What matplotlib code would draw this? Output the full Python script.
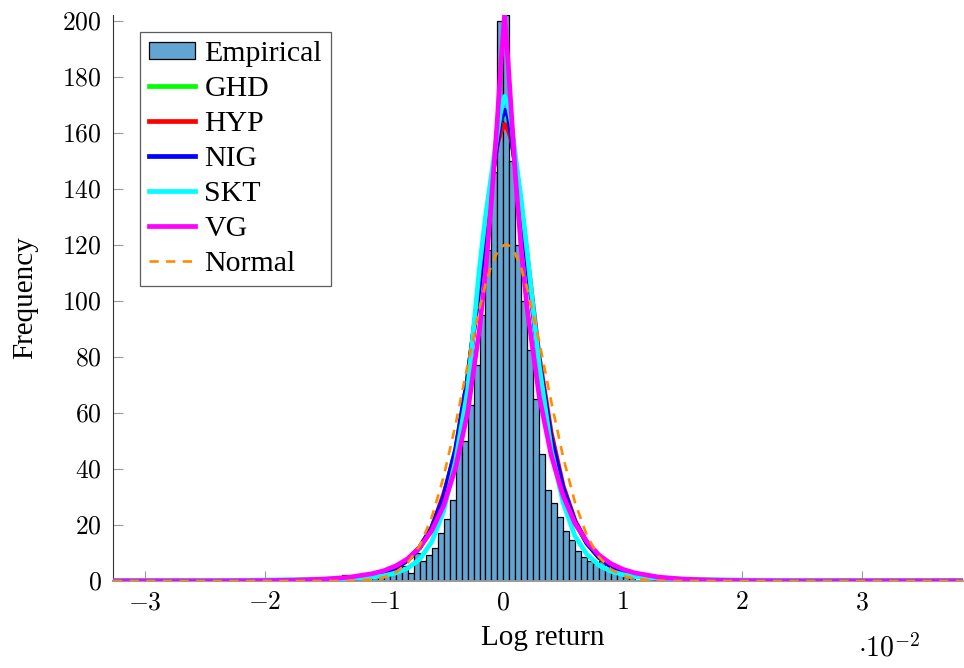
import numpy as np
import matplotlib
matplotlib.use("Agg")
import matplotlib.pyplot as plt
from matplotlib.ticker import FuncFormatter

plt.rcParams['font.family'] = ['Liberation Serif', 'DejaVu Serif']
plt.rcParams['mathtext.fontset'] = 'cm'

# empirical histogram (log return in units of 1e-2)
hist_start = -1.35
bin_width = 0.05
hist_counts = [2, 0.5, 0, 0.5, 0.5, 1, 3, 3.5, 5.4, 6,
               5.5, 3, 10, 7, 9.4, 11.7, 17, 22, 29, 48,
               50, 63, 77, 95, 118, 146, 200, 202, 150, 120,
               100, 82.5, 65, 45.5, 32.6, 28, 23, 18, 14.5, 10.6,
               8.6, 7, 5.9, 7.3, 4, 4, 4.6, 1.6, 1]

# fitted densities
x_grid = [-3.27, -2.5, -2.0, -1.75, -1.5, -1.3, -1.1, -1.0, -0.9, -0.8,
          -0.7, -0.6, -0.5, -0.4, -0.3, -0.2, -0.15, -0.1, -0.05, -0.025,
          0.01, 0.04, 0.07, 0.1, 0.15, 0.2, 0.3, 0.4, 0.5, 0.6,
          0.7, 0.8, 0.9, 1.0, 1.1, 1.3, 1.5, 1.75, 2.0, 2.5,
          3.0, 3.85]
ghd = [0, 0.01, 0.07, 0.17, 0.4, 0.9, 2.0, 3.1, 4.8, 7.6,
       12, 19, 30, 47, 72, 106, 125, 142, 157, 164,
       167, 165, 158, 148, 131, 113, 78, 51, 33, 21,
       13.5, 8.5, 5.4, 3.4, 2.2, 0.95, 0.42, 0.17, 0.07, 0.01,
       0, 0]
hyp = [0, 0, 0.02, 0.05, 0.2, 0.6, 1.7, 2.8, 4.6, 7.5,
       12, 19, 31, 46, 72, 106, 126, 143, 156, 160,
       163, 161, 157, 149, 134, 116, 80, 53, 34, 21.5,
       13.5, 8.5, 5.2, 3.2, 2.0, 0.75, 0.28, 0.08, 0.02, 0,
       0, 0]
nig = [0, 0.01, 0.07, 0.17, 0.4, 0.9, 2.0, 3.1, 4.8, 7.6,
       12, 19, 30, 47, 72, 106, 125, 142, 157, 164,
       168, 166, 158, 148, 131, 113, 78, 51, 33, 21,
       13.5, 8.5, 5.4, 3.4, 2.2, 0.95, 0.42, 0.17, 0.07, 0.01,
       0, 0]
skt = [0.08, 0.18, 0.35, 0.5, 0.7, 0.9, 1.4, 1.9, 2.9, 4.6,
       7.8, 14, 25, 43, 68, 112, 130, 145, 160, 167,
       173, 170, 163, 152, 136, 117, 77, 47, 28, 16,
       9.5, 5.6, 3.5, 2.3, 1.6, 1.0, 0.7, 0.5, 0.35, 0.18,
       0.1, 0.05]
vg = [0, 0.03, 0.15, 0.3, 0.7, 1.3, 2.6, 3.7, 5.4, 8,
      12, 18, 27, 40.5, 60, 90, 110, 136, 165, 182,
      202, 185, 165, 145, 118, 97, 66, 45, 30.5, 20.5,
      14, 9.3, 6.2, 4.2, 2.9, 1.4, 0.7, 0.32, 0.15, 0.03,
      0, 0]
normal = [0, 0, 0, 0, 0, 0.06, 0.53, 1.33, 3.1, 6.5,
          12.7, 22.7, 37.3, 55.9, 77, 97.3, 105.9, 112.8, 117.5, 118.9,
          120, 119.9, 118.7, 116.7, 111.5, 104.3, 85.5, 64.2, 44.3, 28,
          16.2, 8.6, 4.2, 1.9, 0.77, 0.1, 0, 0, 0, 0,
          0, 0]

x_ticks = [-3, -2, -1, 0, 1, 2, 3]
y_ticks = [0, 20, 40, 60, 80, 100, 120, 140, 160, 180, 200]

fig = plt.figure(figsize=(9.64, 6.68), dpi=100)
ax = fig.add_axes([0.1172, 0.1302, 0.8818, 0.8473])

lefts = hist_start + bin_width * np.arange(len(hist_counts))
ax.bar(lefts, hist_counts, width=bin_width, align='edge', color='#63a5d2',
       edgecolor='black', linewidth=0.9, label='Empirical', zorder=2)

lw = 3.4
ax.plot(x_grid, ghd, color='#00ff00', lw=lw, label='GHD', zorder=3)
ax.plot(x_grid, hyp, color='#ff0000', lw=lw, label='HYP', zorder=3)
ax.plot(x_grid, nig, color='#0000ff', lw=lw, label='NIG', zorder=3)
ax.plot(x_grid, skt, color='#00ffff', lw=lw, label='SKT', zorder=3)
ax.plot(x_grid, vg, color='#ff00ff', lw=lw, label='VG', zorder=3)
ax.plot(x_grid, normal, color='#ff8c00', lw=1.9, ls=(0, (3.5, 2.8)),
        label='Normal', zorder=4)

ax.set_xlim(-3.27, 3.85)
ax.set_ylim(0, 202)
ax.set_xticks(x_ticks)
ax.set_yticks(y_ticks)
fmt = FuncFormatter(lambda v, p: r'$%g$' % v)
ax.xaxis.set_major_formatter(fmt)
ax.yaxis.set_major_formatter(fmt)

ax.spines['top'].set_visible(False)
ax.spines['right'].set_visible(False)
ax.spines['left'].set_color('#333333')
ax.spines['bottom'].set_color('#999999')
ax.spines['bottom'].set_linewidth(1.4)
ax.tick_params(direction='in', length=7, width=0.8, color='#999999',
               labelsize=18.5, pad=8)

ax.set_xlabel('Log return', fontsize=21)
ax.xaxis.set_label_coords(0.506, -0.077)
ax.set_ylabel('Frequency', fontsize=21)
ax.yaxis.set_label_coords(-0.088, 0.5)
ax.text(0.877, -0.118, r'$\cdot 10^{-2}$', transform=ax.transAxes,
        ha='left', va='center', fontsize=20)

handles, labels = ax.get_legend_handles_labels()
order = [labels.index(n) for n in ['Empirical', 'GHD', 'HYP', 'NIG', 'SKT', 'VG', 'Normal']]
leg = ax.legend([handles[i] for i in order], [labels[i] for i in order],
                loc='upper left', bbox_to_anchor=(0.032, 0.97), fontsize=21.5,
                frameon=True, fancybox=False, edgecolor='#333333',
                handlelength=1.55, handleheight=0.5, handletextpad=0.3,
                labelspacing=0.3, borderpad=0.3, borderaxespad=0)
leg.get_frame().set_linewidth(0.9)

fig.savefig('out.png', dpi=100)
